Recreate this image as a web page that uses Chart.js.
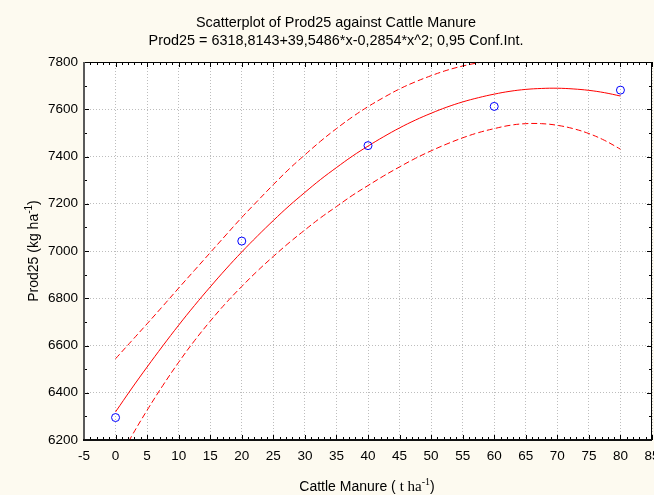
<!DOCTYPE html>
<html>
<head>
<meta charset="utf-8">
<title>Scatterplot of Prod25 against Cattle Manure</title>
<script src="https://cdn.jsdelivr.net/npm/chart.js@4.4.1/dist/chart.umd.min.js"></script>
<style>
    html, body { margin: 0; padding: 0; background: #fdfaf0; }
    #wrap { width: 654px; height: 495px; }
</style>
</head>
<body>
<div id="wrap"><canvas id="chart" width="654" height="495"></canvas></div>
<script>
// 관측값
const manure = [0, 20, 40, 60, 80];
const prod25 = [6295, 7042, 7446, 7612, 7681];

// 회귀 곡선과 95% 신뢰구간
const curveX = [0, 2.5, 5, 7.5, 10, 12.5, 15, 17.5, 20, 22.5, 25, 27.5, 30, 32.5, 35, 37.5, 40,
    42.5, 45, 47.5, 50, 52.5, 55, 57.5, 60, 62.5, 65, 67.5, 70, 72.5, 75, 77.5, 80];
const fitY = [6319, 6416, 6509, 6599, 6686, 6769, 6848, 6924, 6996, 7064, 7129, 7191, 7248, 7303, 7353, 7401, 7444,
    7484, 7521, 7554, 7583, 7609, 7631, 7649, 7664, 7676, 7684, 7688, 7689, 7686, 7680, 7670, 7656];
const upperY = [6544, 6618, 6692, 6767, 6843, 6918, 6993, 7068, 7142, 7212, 7281, 7347, 7407, 7465, 7518, 7567, 7611,
    7650, 7686, 7716, 7742, 7765, 7783, 7797, 7810, 7820, 7829, 7837, 7846, 7854, 7863, 7872, 7881];
const lowerY = [6094, 6214, 6326, 6431, 6529, 6620, 6703, 6780, 6850, 6916, 6977, 7035, 7089, 7141, 7188, 7235, 7277,
    7318, 7356, 7392, 7424, 7453, 7479, 7501, 7518, 7532, 7539, 7539, 7532, 7518, 7497, 7468, 7431];

// 축 범위
const xRange = [-5, 85];
const yRange = [6200, 7800];
const xStep = 5;
const yStep = 200;

const titleLine1 = 'Scatterplot of Prod25 against Cattle Manure';
const titleLine2 = 'Prod25 = 6318,8143+39,5486*x-0,2854*x^2; 0,95 Conf.Int.';

const SANS = "'Liberation Sans', Arial, sans-serif";
const SERIF = "'Liberation Serif', 'Times New Roman', serif";

const toPoints = (xs, ys) => xs.map((x, i) => ({ x: x, y: ys[i] }));

// 여러 글꼴 조각을 가운데 정렬로 그리기 (위첨자용)
function drawParts(ctx, parts, cx, cy) {
    let total = 0;
    parts.forEach(p => { ctx.font = p.font; total += ctx.measureText(p.text).width; });
    let x = cx - total / 2;
    ctx.textAlign = 'left';
    ctx.textBaseline = 'alphabetic';
    parts.forEach(p => {
        ctx.font = p.font;
        ctx.fillText(p.text, x, cy + (p.dy || 0));
        x += ctx.measureText(p.text).width;
    });
}

const decorPlugin = {
    id: 'decor',
    beforeDraw(chart) {
        const { ctx, chartArea: a } = chart;
        ctx.save();
        ctx.fillStyle = '#fdfaf0';
        ctx.fillRect(0, 0, chart.width, chart.height);
        ctx.fillStyle = '#ffffff';
        ctx.fillRect(a.left, a.top, a.right - a.left, a.bottom - a.top);
        ctx.restore();
    },
    afterDraw(chart) {
        const { ctx, chartArea: a } = chart;
        const xs = chart.scales.x;
        const ys = chart.scales.y;
        ctx.save();

        // 안쪽 눈금
        ctx.strokeStyle = '#000';
        ctx.lineWidth = 1;
        ctx.beginPath();
        for (let v = xRange[0]; v <= xRange[1]; v += 1) {
            const px = Math.round(xs.getPixelForValue(v)) + 0.5;
            const len = (v % xStep === 0) ? 5 : 3;
            ctx.moveTo(px, a.bottom); ctx.lineTo(px, a.bottom - len);
            ctx.moveTo(px, a.top); ctx.lineTo(px, a.top + len);
        }
        for (let v = yRange[0]; v <= yRange[1]; v += 100) {
            const py = Math.round(ys.getPixelForValue(v)) + 0.5;
            const len = (v % yStep === 0) ? 5 : 3;
            ctx.moveTo(a.left, py); ctx.lineTo(a.left + len, py);
            ctx.moveTo(a.right, py); ctx.lineTo(a.right - len, py);
        }
        ctx.stroke();

        // 테두리
        ctx.strokeStyle = '#000';
        ctx.lineWidth = 1;
        ctx.strokeRect(a.left + 0.5, a.top + 0.5, a.right - a.left - 1, a.bottom - a.top - 1);
        ctx.lineWidth = 2;
        ctx.strokeStyle = '#5a5a5a';
        ctx.beginPath();
        ctx.moveTo(a.left, a.top); ctx.lineTo(a.left, a.bottom + 1);
        ctx.stroke();
        ctx.strokeStyle = '#111';
        ctx.beginPath();
        ctx.moveTo(a.left - 1, a.bottom); ctx.lineTo(a.right, a.bottom);
        ctx.stroke();

        // 제목
        ctx.fillStyle = '#000';
        ctx.textAlign = 'center';
        ctx.textBaseline = 'alphabetic';
        ctx.font = '14.4px ' + SANS;
        ctx.fillText(titleLine1, 336, 27);
        ctx.fillText(titleLine2, 336, 45);

        // x축 제목
        drawParts(ctx, [
            { text: 'Cattle Manure ( ', font: '14px ' + SANS },
            { text: 't ha', font: '15px ' + SERIF },
            { text: '-1', font: '10px ' + SERIF, dy: -6 },
            { text: ')', font: '14px ' + SANS }
        ], 367, 491);

        // y축 제목
        ctx.translate(38, 251);
        ctx.rotate(-Math.PI / 2);
        drawParts(ctx, [
            { text: 'Prod25 (kg ha', font: '14px ' + SANS },
            { text: '-1', font: '10px ' + SANS, dy: -6 },
            { text: ')', font: '14px ' + SANS }
        ], 0, 0);

        ctx.restore();
    }
};

try {
    const ctx = document.getElementById('chart');
    const chart = new Chart(ctx, {
        type: 'scatter',
        data: {
            datasets: [{
                label: 'Prod25',
                data: toPoints(manure, prod25),
                pointStyle: 'circle',
                pointRadius: 4,
                pointBorderWidth: 1,
                borderColor: '#0000ff',
                backgroundColor: 'rgba(0,0,0,0)',
                order: 0
            }, {
                label: 'Fit',
                data: toPoints(curveX, fitY),
                showLine: true,
                borderColor: '#ff0000',
                borderWidth: 1,
                pointRadius: 0,
                tension: 0.4,
                order: 1
            }, {
                label: 'Upper 95%',
                data: toPoints(curveX, upperY),
                showLine: true,
                borderColor: '#ff0000',
                borderWidth: 1,
                borderDash: [6, 3],
                pointRadius: 0,
                tension: 0.4,
                order: 1
            }, {
                label: 'Lower 95%',
                data: toPoints(curveX, lowerY),
                showLine: true,
                borderColor: '#ff0000',
                borderWidth: 1,
                borderDash: [6, 3],
                pointRadius: 0,
                tension: 0.4,
                order: 1
            }]
        },
        options: {
            responsive: false,
            animation: false,
            layout: { autoPadding: false, padding: { top: 62, right: 2, left: 0, bottom: 0 } },
            plugins: {
                legend: { display: false },
                title: { display: false },
                tooltip: { enabled: false }
            },
            scales: {
                x: {
                    type: 'linear',
                    min: xRange[0],
                    max: xRange[1],
                    ticks: {
                        stepSize: xStep,
                        color: '#000',
                        padding: 8,
                        font: { family: SANS, size: 13.5 },
                        callback: v => String(v)
                    },
                    grid: { color: '#bdbdbd', lineWidth: 1, drawTicks: false },
                    border: { display: false, dash: [1, 2] },
                    afterFit: s => { s.height = 55; s.paddingLeft = 0; s.paddingRight = 0; }
                },
                y: {
                    type: 'linear',
                    min: yRange[0],
                    max: yRange[1],
                    ticks: {
                        stepSize: yStep,
                        color: '#000',
                        padding: 6,
                        font: { family: SANS, size: 13.5 },
                        callback: v => String(v)
                    },
                    grid: { color: '#bdbdbd', lineWidth: 1, drawTicks: false },
                    border: { display: false, dash: [1, 2] },
                    afterFit: s => { s.width = 84; s.paddingTop = 0; s.paddingBottom = 0; }
                }
            }
        },
        plugins: [decorPlugin]
    });
    console.log('Chart ready', chart.chartArea);
} catch (error) {
    console.error('Error drawing chart:', error);
}
</script>
</body>
</html>
